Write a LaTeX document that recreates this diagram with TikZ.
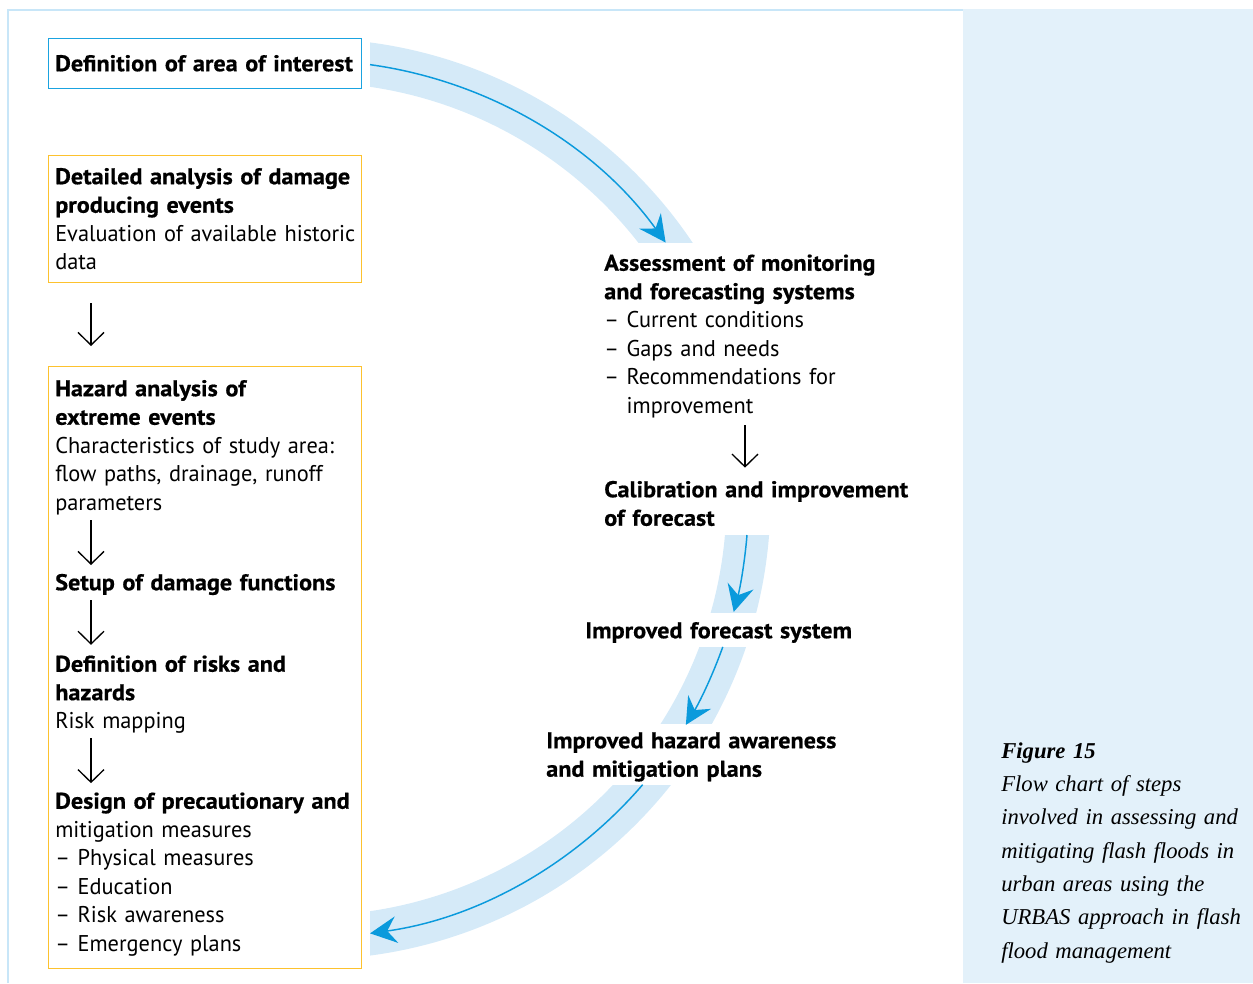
\documentclass[tikz,border=0pt]{standalone}
\usepackage{fontspec}
\setmainfont{PT Sans}[FakeStretch=0.98, BoldFeatures={FakeStretch=1.06, FakeBold=0.6}]
\newfontfamily\captionfont{Liberation Serif}
\usetikzlibrary{arrows.meta}

\definecolor{frameblue}{HTML}{C8E6F8}
\definecolor{panelblue}{HTML}{E3F1FA}
\definecolor{bandblue}{HTML}{D5EAF8}
\definecolor{arrowblue}{HTML}{0A9ADC}
\definecolor{boxblue}{HTML}{1AA3E0}
\definecolor{boxyellow}{HTML}{FDC22E}

\tikzset{
  stepbox/.style={draw=#1, line width=1.1pt, anchor=north west, inner sep=0pt, minimum width=234.75pt},
  steptext/.style={anchor=north west, inner sep=0pt, text width=300pt, align=left,
    font=\fontsize{17.1}{21.375}\selectfont, execute at begin node=\strut},
  band/.style={draw=bandblue, line width=33pt},
  flowarrow/.style={draw=arrowblue, line width=1.1pt, -{Stealth[length=20pt,width=20pt,inset=7pt]}},
  downarrow/.style={line width=1pt, -{Straight Barb[length=9.5pt,width=19.5pt]}}
}

\begin{document}
\begin{tikzpicture}[x=0.75pt, y=-0.75pt]
\useasboundingbox (0,0) rectangle (1253,983);
\fill[panelblue] (963,9) rectangle (1253,983);
\draw[frameblue, line width=1.2pt] (8,983) -- (8,10) -- (963,10);

% boxes of the left column
\node[stepbox=boxblue, minimum height=37.5pt] (area-box) at (48,38) {};
\node[stepbox=boxyellow, minimum height=95.25pt] (detail-box) at (48,155) {};
\node[stepbox=boxyellow, minimum height=451.5pt] (hazard-box) at (48,366) {};

\node[steptext] (area) at (55,51) {\bfseries Definition of area of interest};
\node[steptext] (detail) at (55,164) {\bfseries Detailed analysis of damage\\ producing events\\
  \mdseries Evaluation of available historic\\ data};
\node[steptext] (hazard) at (55,376) {\bfseries Hazard analysis of\\ extreme events\\
  \mdseries Characteristics of study area:\\ flow paths, drainage, runoff\\ parameters};
\node[steptext] (setup) at (55,570) {\bfseries Setup of damage functions};
\node[steptext] (risks) at (55,651.5) {\bfseries Definition of risks and\\ hazards\\ \mdseries Risk mapping};
\node[steptext] (design) at (55,788.5) {\bfseries Design of precautionary and\\ \mdseries mitigation measures\\
  – Physical measures\\ – Education\\ – Risk awareness\\ – Emergency plans};

% right column
\node[steptext] (assess) at (604,250.5) {\bfseries Assessment of monitoring\\ and forecasting systems\\
  \mdseries – Current conditions\\ – Gaps and needs\\ – Recommendations for\\ \phantom{– }improvement};
\node[steptext] (calib) at (604,477) {\bfseries Calibration and improvement\\ of forecast};
\node[steptext] (system) at (585,618) {\bfseries Improved forecast system};
\node[steptext] (plans) at (546,728) {\bfseries Improved hazard awareness\\ and mitigation plans};

\node[anchor=north west, inner sep=0pt, text width=230pt, align=left,
  font=\captionfont\itshape\fontsize{17}{25}\selectfont, execute at begin node=\strut] (caption) at (1001,734.7)
  {\textbf{Figure 15}\\ Flow chart of steps\\ involved in assessing and\\ mitigating flash floods in\\
   urban areas using the\\ URBAS approach in flash\\ flood management};

% straight arrows
\coordinate (lx) at (91,0);
\coordinate (rx) at (745,0);
\draw[downarrow, shorten <=15pt, shorten >=15pt] (detail-box.south -| lx) -- (hazard-box.north -| lx);
\draw[downarrow, shorten <=3.75pt, shorten >=3.75pt] (hazard.south -| lx) -- (setup.north -| lx);
\draw[downarrow, shorten <=1pt, shorten >=5pt] (setup.south -| lx) -- (risks.north -| lx);
\draw[downarrow, shorten <=3.4pt, shorten >=4pt] (risks.south -| lx) -- (design.north -| lx);
\draw[downarrow, shorten <=5.25pt, shorten >=7pt] (assess.south -| rx) -- (calib.north -| rx);

% the loop back: bands and blue arrows on one circle
\coordinate (o) at (310,499);
\begin{scope}
  \clip (370,0) rectangle (900,242);
  \draw[band] (o) ++(-95:438.5) arc[start angle=-95, end angle=-25, radius=438.5];
\end{scope}
\begin{scope}
  \clip (370,535) rectangle (900,612);
  \draw[band] (o) ++(0:438.5) arc[start angle=0, end angle=20, radius=438.5];
\end{scope}
\begin{scope}
  \clip (370,647) rectangle (900,723);
  \draw[band] (o) ++(14:438.5) arc[start angle=14, end angle=36, radius=438.5];
\end{scope}
\begin{scope}
  \clip (370,785) rectangle (900,983);
  \draw[band] (o) ++(35:438.5) arc[start angle=35, end angle=95, radius=438.5];
\end{scope}

\draw[flowarrow] (o) ++(-82.13:438.5) coordinate (area-out) arc[start angle=-82.13, end angle=-35.8, radius=438.5];
\draw[flowarrow] (o) ++(4.71:438.5) coordinate (calib-out) arc[start angle=4.71, end angle=14.92, radius=438.5];
\draw[flowarrow] (o) ++(19.71:438.5) coordinate (system-out) arc[start angle=19.71, end angle=31, radius=438.5];
\draw[flowarrow] (o) ++(40.65:438.5) coordinate (plans-out) arc[start angle=40.65, end angle=82.13, radius=438.5];
\end{tikzpicture}
\end{document}
